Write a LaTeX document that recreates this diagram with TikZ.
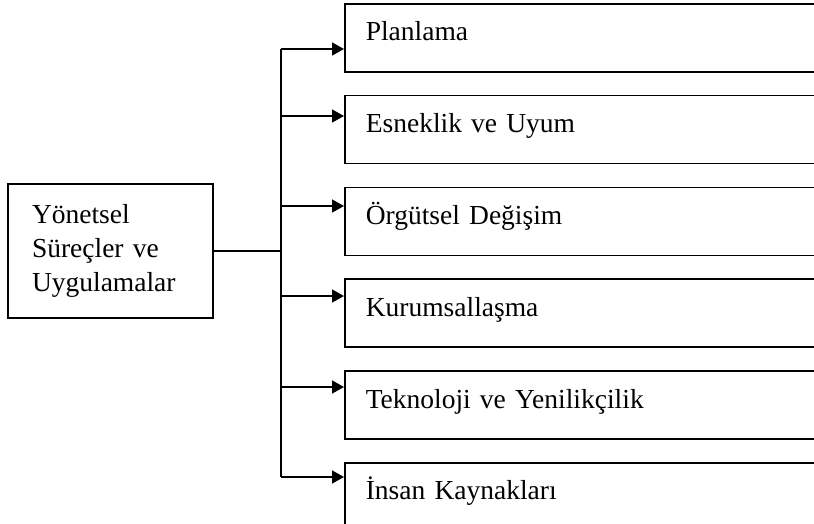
\documentclass[tikz,border=0pt]{standalone}
\usepackage{fontspec}
\setmainfont{Liberation Serif}
\usetikzlibrary{arrows.meta, positioning}

\begin{document}
\begin{tikzpicture}[
    x=1pt, y=-1pt,
    line width=1.6pt,
    node distance=22.2pt,
    every node/.style={font=\fontsize{27.5}{34}\selectfont},
    box/.style={draw, anchor=north west, minimum width=480pt, minimum height=68pt,
                inner xsep=21pt, text width=438pt, align=left,
                text height=20pt, text depth=14pt},
    mainbox/.style={draw, minimum width=205pt, minimum height=134pt,
                    inner xsep=24pt, text width=157pt, align=left},
    arrow/.style={-{Triangle[length=12pt, width=13pt]}}
]
\clip (0,0) rectangle (814,523);

% Nodes
\node[mainbox] (yonetsel) at (110.5,251) {Yönetsel\\Süreçler ve\\Uygulamalar};

\node[box] (plan) at (344,3) {Planlama};
\node[box, below=of plan] (esnek) {Esneklik ve Uyum};
\node[box, below=of esnek] (degisim) {Örgütsel Değişim};
\node[box, below=of degisim] (kurum) {Kurumsallaşma};
\node[box, below=of kurum] (tekno) {Teknoloji ve Yenilikçilik};
\node[box, below=of tekno] (insan) {İnsan Kaynakları};

% Trunk
\coordinate (t1) at (281,49);
\coordinate (t2) at (281,116);
\coordinate (t3) at (281,206);
\coordinate (t4) at (281,296);
\coordinate (t5) at (281,387);
\coordinate (t6) at (281,477);

\draw (yonetsel.east) -- (yonetsel.east -| t1);
\draw (t1) -- (t6);

% Arrows into the boxes
\draw[arrow] (t1) -- (t1 -| plan.west);
\draw[arrow] (t2) -- (t2 -| esnek.west);
\draw[arrow] (t3) -- (t3 -| degisim.west);
\draw[arrow] (t4) -- (t4 -| kurum.west);
\draw[arrow] (t5) -- (t5 -| tekno.west);
\draw[arrow] (t6) -- (t6 -| insan.west);

\end{tikzpicture}
\end{document}
